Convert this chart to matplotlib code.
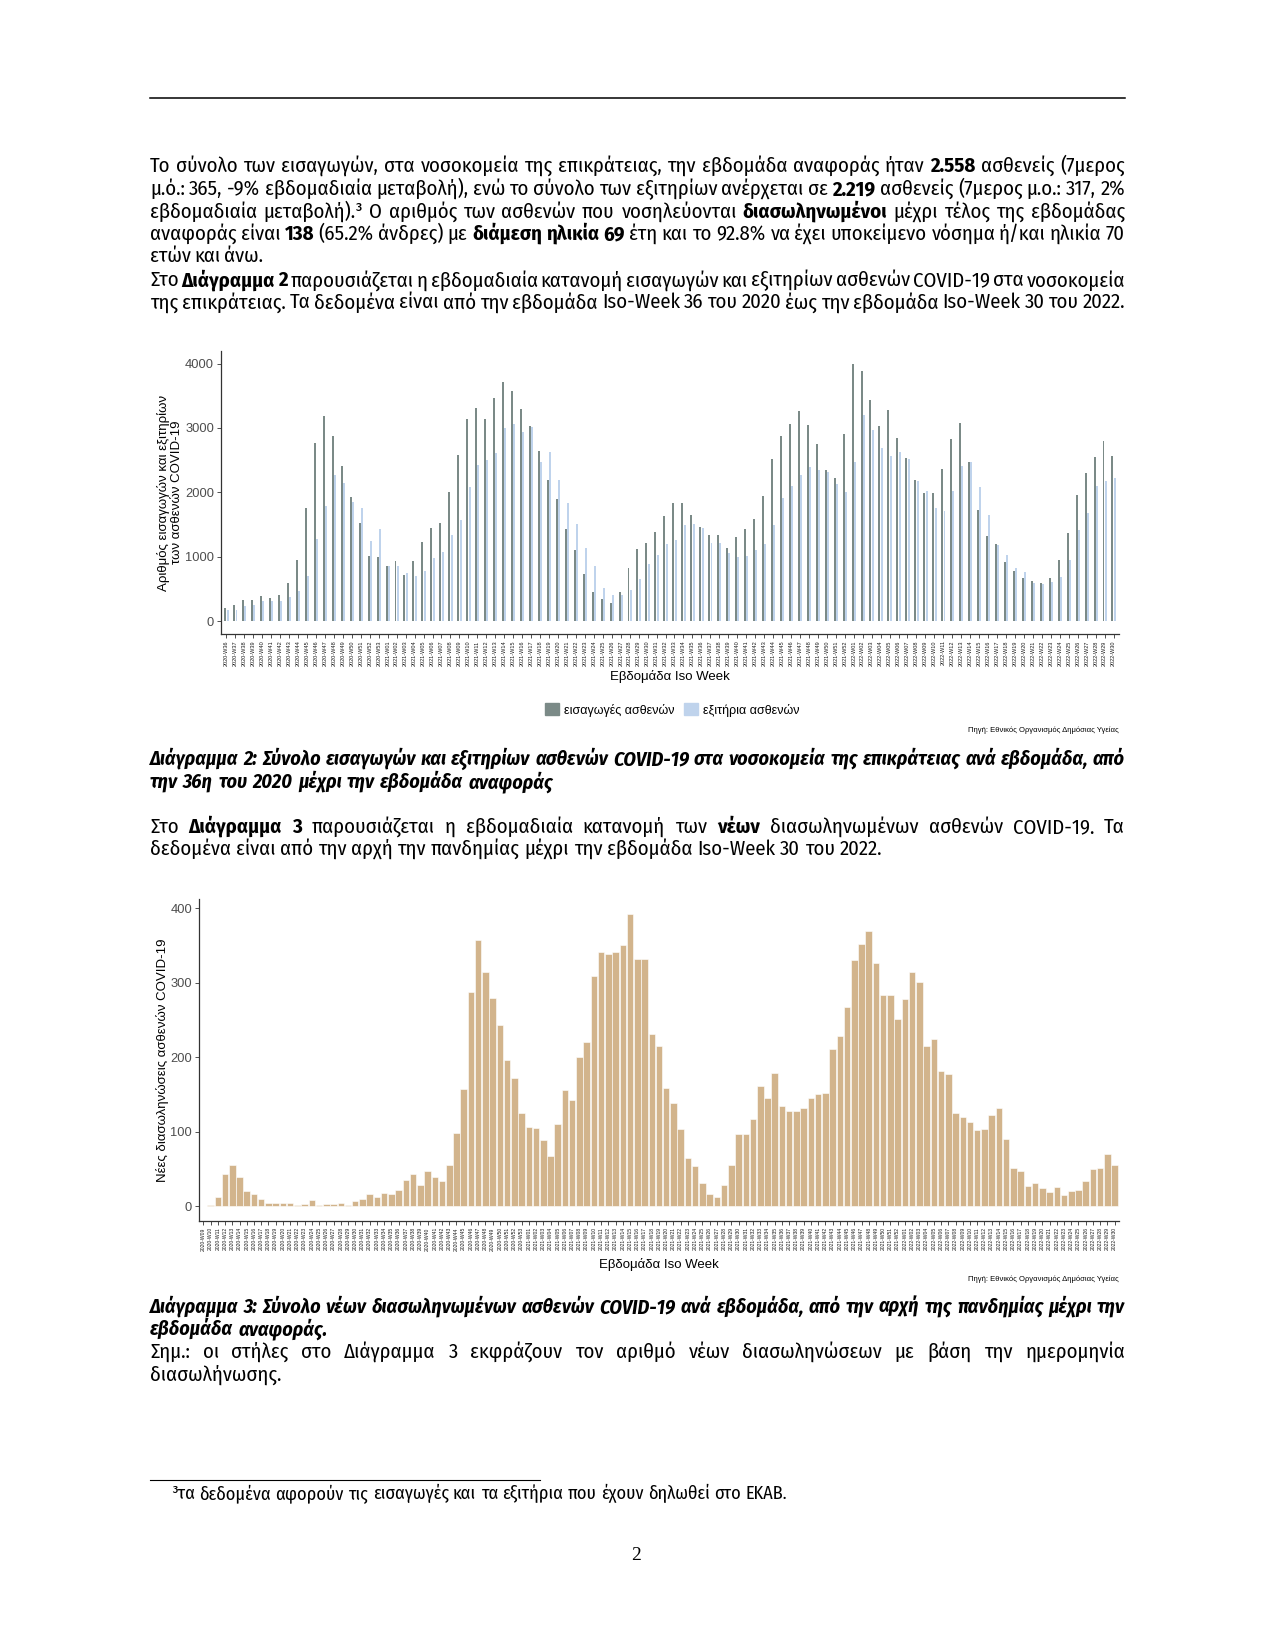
import numpy as np
import matplotlib
matplotlib.use("Agg")
import matplotlib.pyplot as plt
from matplotlib import font_manager
from matplotlib.patches import Patch

W, H = 1275, 1650

# ---- data -------------------------------------------------------------
def iso_weeks(y0, w0, y1, w1):
    nweeks = {2020: 53, 2021: 52, 2022: 52}
    out = []
    y, w = y0, w0
    while (y, w) <= (y1, w1):
        out.append(f"{y}-W{w:02d}")
        w += 1
        if w > nweeks[y]:
            y, w = y + 1, 1
    return out

weeks_hosp = iso_weeks(2020, 36, 2022, 30)
admissions = [
    206, 258, 335, 330, 392, 366, 413, 588, 955, 1755, 2761, 3190, 2875, 2410, 1935, 1523, 1017, 996,
    852, 929, 723, 929, 1223, 1440, 1528, 2003, 2575, 3133, 3308, 3138, 3458, 3711, 3572, 3293, 3025,
    2643, 2194, 1899, 1435, 1110, 738, 454, 351, 274, 449, 818, 1118, 1213, 1378, 1636, 1827, 1837,
    1641, 1455, 1332, 1332, 1130, 1301, 1430, 1590, 1946, 2524, 2875, 3061, 3267, 3045, 2756, 2348,
    2225, 2906,
    3995, 3892, 3437, 3030, 3272, 2839, 2534, 2188, 1987, 1992, 2364, 2828, 3076, 2467, 1724, 1316,
    1197, 919, 779, 676, 625, 594, 671, 945, 1368, 1966, 2297, 2545, 2797, 2558,
]
discharges = [
    165, 165, 232, 258, 305, 320, 315, 382, 470, 707, 1280, 1786, 2271, 2147, 1848, 1755, 1249, 1435,
    862, 857, 748, 707, 785, 986, 1079, 1342, 1564, 2090, 2426, 2503, 2612, 2994, 3061, 2932, 3019,
    2472, 2627, 2194, 1832, 1512, 1135, 857, 511, 408, 408, 490, 661, 888, 1022, 1203, 1265, 1486,
    1502, 1445, 1218, 1218, 1058, 1001, 1017, 1110, 1197, 1497, 1905, 2101, 2271, 2400, 2348, 2317,
    2132, 2003,
    2472, 3200, 2968, 2684, 2570, 2632, 2514, 2178, 2018, 1760, 1714, 2023, 2405, 2477, 2080, 1641,
    1177, 1027, 831, 769, 594, 583, 604, 681, 945, 1414, 1672, 2106, 2183, 2219,
]

weeks_icu = iso_weeks(2020, 9, 2022, 30)
new_intubated = [
    0, 2, 13, 43, 55, 40, 20, 17, 10, 4, 4, 5, 4, 2, 3, 8, 2, 3, 3, 4, 2, 7, 10, 16, 12, 18, 17, 22,
    35, 44, 29, 47, 40, 34, 56, 99, 157, 288, 357, 314, 280, 244, 197, 172, 126,
    107, 105, 89, 67, 111, 156, 143, 200, 220, 309, 341, 339, 342, 351, 393, 332, 332, 232, 215, 159,
    139, 104, 65, 54, 32, 17, 13, 29, 55, 97, 97, 117, 162, 146, 179, 135, 128, 128, 132, 146, 151,
    152, 211, 229, 267, 331, 352, 370, 327, 284, 284, 251,
    278, 314, 301, 215, 225, 182, 178, 126, 120, 113, 102, 104, 123, 132, 90, 51, 47, 28, 32, 25, 19,
    26, 15, 21, 22, 34, 50, 52, 71, 56,
]

DARK = "#7b8a87"
LIGHT = "#bfd3ec"
TAN = "#d2b48c"
AXC = "#333333"
TXT = "#4d4d4d"

# ---- fonts -------------------------------------------------------------
names = {f.name for f in font_manager.fontManager.ttflist}
BODY = next((n for n in ["Fira Sans Condensed", "Roboto Condensed", "Open Sans Condensed",
                         "Noto Sans Condensed", "Liberation Sans Narrow", "Noto Sans"]
             if n in names), "DejaVu Sans")
plt.rcParams["font.family"] = ["Liberation Sans", "DejaVu Sans"]

fig = plt.figure(figsize=(W / 100, H / 100), dpi=100)
renderer = fig.canvas.get_renderer()


def fx(x):
    return x / W


def fy(y):
    return 1 - y / H


def measure(s, size, weight="normal", style="normal"):
    t = fig.text(0, 0, s, fontsize=size, fontweight=weight, fontstyle=style, family=BODY)
    w = t.get_window_extent(renderer).width
    t.remove()
    return w


def words_of(parts):
    return [(tok, wt) for txt, wt in parts for tok in txt.split()]


def natural(parts, size, style):
    ws = words_of(parts)
    sp = measure("a a", size, style=style) - measure("aa", size, style=style)
    return sum(measure(t, size, wt, style) for t, wt in ws) + sp * (len(ws) - 1)


def put_line(y, parts, size, x0, x1, style="normal"):
    # word by word, spread so the line runs from x0 to x1 (justified)
    ws = words_of(parts)
    widths = [measure(t, size, wt, style) for t, wt in ws]
    gap = (x1 - x0 - sum(widths)) / max(len(ws) - 1, 1)
    x = x0
    for (t, wt), w in zip(ws, widths):
        fig.text(fx(x), fy(y), t, fontsize=size, fontweight=wt, fontstyle=style,
                 family=BODY, ha="left", va="baseline", color="black")
        x += w + gap


def fit_size(lines, style):
    ratios = [(x1 - x0) / natural(p, 10, style) for _, p, x0, x1 in lines]
    return 10 * min(np.median(ratios), min(ratios) * 1.06)


N, B = "normal", "bold"
L, R = 150, 1125

body_lines = [
    (172, [("Το σύνολο των εισαγωγών, στα νοσοκομεία της επικράτειας, την εβδομάδα αναφοράς ήταν", N),
           ("2.558", B), ("ασθενείς (7μερος", N)], L, R),
    (195, [("μ.ό.: 365, -9% εβδομαδιαία μεταβολή), ενώ το σύνολο των εξιτηρίων ανέρχεται σε", N),
           ("2.219", B), ("ασθενείς (7μερος μ.ο.: 317, 2%", N)], L, R),
    (217.5, [("εβδομαδιαία μεταβολή).³  Ο αριθμός των ασθενών που νοσηλεύονται", N),
             ("διασωληνωμένοι", B), ("μέχρι τέλος της εβδομάδας", N)], L, R),
    (240, [("αναφοράς είναι", N), ("138", B), ("(65.2% άνδρες) με", N), ("διάμεση ηλικία 69", B),
           ("έτη και το 92.8% να έχει υποκείμενο νόσημα ή/και ηλικία 70", N)], L, R),
    (262, [("ετών και άνω.", N)], L, 263),
    (286.5, [("Στο", N), ("Διάγραμμα 2", B),
             ("παρουσιάζεται η εβδομαδιαία κατανομή εισαγωγών και εξιτηρίων ασθενών COVID-19 στα νοσοκομεία", N)], L, R),
    (308.5, [("της επικράτειας. Τα δεδομένα είναι από την εβδομάδα Iso-Week 36 του 2020 έως την εβδομάδα Iso-Week 30 του 2022.", N)], L, R),
    (833, [("Στο", N), ("Διάγραμμα 3", B), ("παρουσιάζεται η εβδομαδιαία κατανομή των", N), ("νέων", B),
           ("διασωληνωμένων ασθενών COVID-19.  Τα", N)], L, R),
    (855, [("δεδομένα είναι από την αρχή την πανδημίας μέχρι την εβδομάδα Iso-Week 30 του 2022.", N)], L, 882),
    (1358, [("Σημ.:  οι στήλες στο Διάγραμμα 3 εκφράζουν τον αριθμό νέων διασωληνώσεων με βάση την ημερομηνία", N)], L, R),
    (1381, [("διασωλήνωσης.", N)], L, 281),
]
caption_lines = [
    (765, [("Διάγραμμα 2: Σύνολο εισαγωγών και εξιτηρίων ασθενών COVID-19 στα νοσοκομεία της επικράτειας ανά εβδομάδα, από", B)], L, R),
    (788, [("την 36η του 2020 μέχρι την εβδομάδα αναφοράς", B)], L, 553),
    (1313, [("Διάγραμμα 3: Σύνολο νέων διασωληνωμένων ασθενών COVID-19 ανά εβδομάδα, από την αρχή της πανδημίας μέχρι την", B)], L, R),
    (1335, [("εβδομάδα αναφοράς.", B)], L, 328),
]

full_body = [ln for ln in body_lines if ln[3] == R]
size_body = fit_size(full_body, "normal")
for y, parts, x0, x1 in body_lines:
    put_line(y, parts, size_body, x0, x1)

full_cap = [ln for ln in caption_lines if ln[3] == R]
size_cap = fit_size(full_cap, "italic")
for y, parts, x0, x1 in caption_lines:
    put_line(y, parts, size_cap, x0, x1, style="italic")

# rules, footnote, page number
fig.add_artist(plt.Line2D([fx(150), fx(1125)], [fy(98), fy(98)], color="black", lw=1.1))
fig.add_artist(plt.Line2D([fx(150), fx(540)], [fy(1480), fy(1480)], color="black", lw=0.8))
foot = [("³τα δεδομένα αφορούν τις εισαγωγές και τα εξιτήρια που έχουν δηλωθεί στο ΕΚΑΒ.", N)]
size_foot = 10 * (787 - 171) / natural(foot, 10, "normal")
put_line(1499, foot, size_foot, 171, 787)
fig.text(fx(636), fy(1555), "2", family=["Liberation Serif", "DejaVu Serif"], fontsize=14,
         ha="center", va="center")


def style_axes(ax, xsize):
    for s in ("top", "right"):
        ax.spines[s].set_visible(False)
    for s in ("left", "bottom"):
        ax.spines[s].set_color(AXC)
        ax.spines[s].set_linewidth(0.9)
    ax.tick_params(axis="y", length=3, width=0.6, color=AXC, labelcolor=TXT, labelsize=9.3, pad=2)
    ax.tick_params(axis="x", length=3, width=0.6, color=AXC, labelcolor="#1a1a1a",
                   labelsize=xsize, pad=1.5)


# ---- chart 1: admissions / discharges ----------------------------------
ax1 = fig.add_axes([fx(221), fy(634), (1119 - 221) / W, (634 - 351) / H])
x1 = np.arange(len(weeks_hosp))
ax1.bar(x1 - 0.13, admissions, width=0.22, color=DARK)
ax1.bar(x1 + 0.13, discharges, width=0.22, color=LIGHT)
ax1.set_xlim(-0.6, len(weeks_hosp) - 0.4)
ax1.set_ylim(-200, 4195)
ax1.set_yticks([0, 1000, 2000, 3000, 4000])
ax1.set_xticks(x1)
ax1.set_xticklabels(weeks_hosp, rotation=90)
style_axes(ax1, 4.0)
ax1.text(-0.057, 0.5, "Αριθμός εισαγωγών και εξιτηρίων\nτων ασθενών COVID-19", rotation=90,
         transform=ax1.transAxes, ha="center", va="center", fontsize=9.5, linespacing=1.1,
         multialignment="center", color="black")
ax1.text(0.5, -0.15, "Εβδομάδα Iso Week", transform=ax1.transAxes, ha="center", va="center",
         fontsize=9.5, color="black")
fig.legend(handles=[Patch(color=DARK, label="εισαγωγές ασθενών"),
                    Patch(color=LIGHT, label="εξιτήρια ασθενών")],
           loc="center", bbox_to_anchor=(fx(672), fy(710)), ncol=2, frameon=False, fontsize=9,
           handlelength=1.1, handleheight=1.1, handletextpad=0.4, columnspacing=0.8)
fig.text(fx(1119), fy(730), "Πηγή: Εθνικός Οργανισμός Δημόσιας Υγείας", ha="right", va="center",
         fontsize=5.5)

# ---- chart 2: new intubations ------------------------------------------
ax2 = fig.add_axes([fx(199), fy(1221), (1119 - 199) / W, (1221 - 899) / H])
x2 = np.arange(len(weeks_icu))
ax2.bar(x2, new_intubated, width=0.9, color=TAN, edgecolor="white", linewidth=0.4)
ax2.set_xlim(-0.6, len(weeks_icu) - 0.4)
ax2.set_ylim(-19.6, 412.6)
ax2.set_yticks([0, 100, 200, 300, 400])
ax2.set_xticks(x2)
ax2.set_xticklabels(weeks_icu, rotation=90)
style_axes(ax2, 3.6)
ax2.text(-0.040, 0.5, "Νέες διασωληνώσεις ασθενών COVID-19", rotation=90,
         transform=ax2.transAxes, ha="center", va="center", fontsize=9.5, color="black")
ax2.text(0.5, -0.135, "Εβδομάδα Iso Week", transform=ax2.transAxes, ha="center", va="center",
         fontsize=9.5, color="black")
fig.text(fx(1119), fy(1279), "Πηγή: Εθνικός Οργανισμός Δημόσιας Υγείας", ha="right", va="center",
         fontsize=5.5)

fig.savefig("out.png", dpi=100)
